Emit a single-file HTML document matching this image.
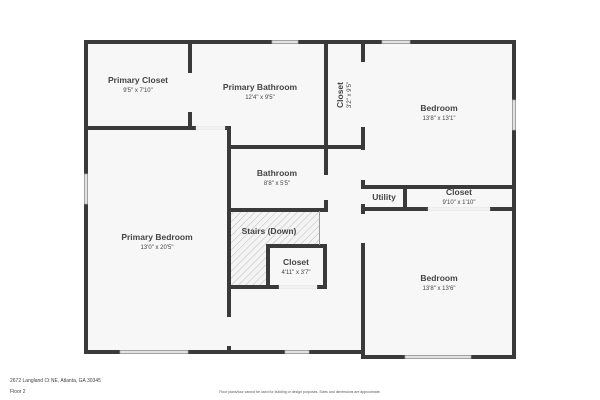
<!DOCTYPE html>
<html><head><meta charset="utf-8"><style>
html,body{margin:0;padding:0;background:#fff;}
svg{display:block;font-family:"Liberation Sans","DejaVu Sans",sans-serif;}
.t{font-weight:bold;fill:#444;font-size:8.5px;text-anchor:middle;}
.d{fill:#444;font-size:6px;text-anchor:middle;}
</style></head><body>
<svg width="600" height="400" viewBox="0 0 600 400" xmlns="http://www.w3.org/2000/svg">
<defs>
<pattern id="h" width="5" height="5" patternUnits="userSpaceOnUse" patternTransform="rotate(45)">
<rect width="5" height="5" fill="#f4f4f4"/><line x1="0" y1="0" x2="0" y2="5" stroke="#bbb" stroke-width="1"/>
</pattern>
</defs>
<rect x="86" y="42" width="428" height="310" fill="#f7f7f7"/>
<rect x="363" y="42" width="151" height="315" fill="#f7f7f7"/>
<rect x="230" y="211" width="89" height="76" fill="url(#h)"/>
<rect x="268" y="246" width="57" height="41" fill="#f7f7f7"/>
<g fill="#3a3a3a">
<!-- outer -->
<rect x="84" y="40" width="432" height="4"/>
<rect x="84" y="40" width="4" height="314"/>
<rect x="512" y="40" width="4" height="319"/>
<rect x="84" y="350" width="281" height="4"/>
<rect x="361" y="355" width="155" height="4"/>
<!-- x=363 vertical -->
<rect x="361" y="40" width="4" height="22"/>
<rect x="361" y="127" width="4" height="23"/>
<rect x="361" y="180" width="4" height="9"/>
<rect x="361" y="204" width="4" height="10"/>
<rect x="361" y="243" width="4" height="116"/>
<!-- primary closet/bath -->
<rect x="188" y="40" width="4" height="33"/>
<rect x="188" y="112" width="4" height="18"/>
<rect x="84" y="126" width="112" height="4"/>
<rect x="225" y="126" width="5" height="4"/>
<rect x="227" y="126" width="4" height="191"/>
<rect x="227" y="346" width="4" height="8"/>
<!-- closet vertical -->
<rect x="324" y="40" width="4" height="109"/>
<rect x="227" y="145" width="138" height="4"/>
<!-- bathroom -->
<rect x="324" y="145" width="4" height="30"/>
<rect x="324" y="200" width="4" height="12"/>
<rect x="227" y="208" width="101" height="4"/>
<!-- small closet -->
<rect x="266" y="244" width="61" height="4"/>
<rect x="266" y="244" width="4" height="45"/>
<rect x="323" y="244" width="4" height="45"/>
<rect x="227" y="285" width="52" height="4"/>
<rect x="317" y="285" width="10" height="4"/>
<!-- utility / closet -->
<rect x="361" y="185" width="155" height="4"/>
<rect x="361" y="207" width="67" height="4"/>
<rect x="490" y="207" width="26" height="4"/>
<rect x="403" y="185" width="4" height="26"/>
</g>
<line x1="319.5" y1="211" x2="319.5" y2="245" stroke="#999" stroke-width="1"/>
<!-- windows -->
<g fill="#e2e2e2" stroke="#aaa" stroke-width="0.7">
<rect x="272" y="40.5" width="26" height="3"/>
<rect x="382" y="40.5" width="28" height="3"/>
<rect x="512.5" y="100" width="3" height="30"/>
<rect x="84.5" y="174" width="3" height="30"/>
<rect x="120" y="350.5" width="68" height="3"/>
<rect x="285" y="350.5" width="24" height="3"/>
<rect x="405" y="355.5" width="66" height="3"/>
</g>
<g fill="#fff" stroke="#ccc" stroke-width="0.5">
<rect x="196" y="127" width="29" height="2"/>
<rect x="428" y="208" width="62" height="2"/>
<rect x="279" y="286" width="38" height="2"/>
</g>
<!-- labels -->
<text class="t" x="138" y="83">Primary Closet</text><text class="d" x="138" y="92">9'5" x 7'10"</text>
<text class="t" x="260" y="90">Primary Bathroom</text><text class="d" x="260" y="99">12'4" x 9'5"</text>
<g transform="translate(343,95) rotate(-90)"><text class="t" x="0" y="0">Closet</text><text class="d" x="0" y="8">3'2" x 9'5"</text></g>
<text class="t" x="439" y="111">Bedroom</text><text class="d" x="439" y="120">13'8" x 13'1"</text>
<text class="t" x="277" y="176">Bathroom</text><text class="d" x="277" y="185">8'8" x 5'5"</text>
<text class="t" x="384" y="200">Utility</text>
<text class="t" x="459" y="195">Closet</text><text class="d" x="459" y="204">9'10" x 1'10"</text>
<text class="t" x="269" y="234">Stairs (Down)</text>
<text class="t" x="296" y="265">Closet</text><text class="d" x="296" y="274">4'11" x 3'7"</text>
<text class="t" x="157" y="240">Primary Bedroom</text><text class="d" x="157" y="249">13'0" x 20'5"</text>
<text class="t" x="439" y="281">Bedroom</text><text class="d" x="439" y="290">13'8" x 13'6"</text>
<text x="10" y="382" font-size="5" fill="#444">2672 Langland Ct NE, Atlanta, GA 30345</text>
<text x="10" y="393" font-size="5" fill="#444">Floor 2</text>
<text x="300" y="393" font-size="3.5" fill="#555" text-anchor="middle">Floor plans/tour cannot be used for building or design purposes. Sizes and dimensions are approximate.</text>
</svg>
</body></html>
